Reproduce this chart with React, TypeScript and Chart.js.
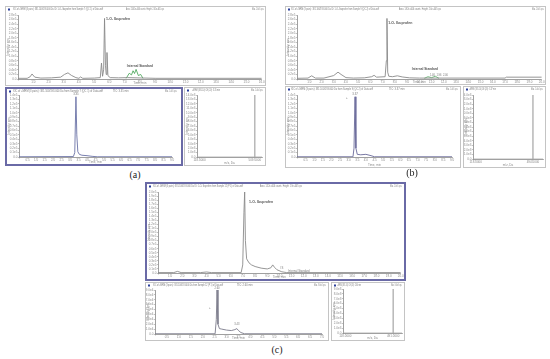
import React, { useEffect, useRef } from "react";
import { Chart, registerables } from "chart.js";

Chart.register(...registerables);

const FONT = "Liberation Sans";

// ---------- DATA ----------
// (a) top: XIC chromatogram (time, min / intensity, x1e4 cps)
const aTopTime = [0, 0.6, 0.8, 0.92, 1.1, 1.5, 2.2, 2.8, 3.05, 3.28, 3.5, 3.8, 4.0, 4.1, 4.25, 5.0, 5.4, 5.48, 5.55, 5.62, 5.68, 5.74, 5.79, 5.84, 5.9, 6.05, 6.6, 7.2, 9.0, 16];
const aTopInt = [0.3, 0.3, 1.0, 2.2, 0.8, 0.4, 0.5, 0.8, 2.0, 2.7, 1.6, 0.6, 0.3, 0.9, 0.3, 0.4, 0.6, 7.0, 1.2, 4.0, 26.5, 6.0, 2.0, 11.6, 1.5, 0.6, 0.5, 0.6, 0.3, 0.3];
const aIsTime = [7.1, 7.3, 7.45, 7.55, 7.65, 7.75, 7.9, 8.05, 8.2];
const aIsInt = [0.3, 2.5, 1.8, 3.6, 2.4, 4.2, 1.5, 2.0, 0.3];
// (a) bottom left: XIC
const aBLTime = [0, 3.2, 3.28, 3.35, 3.4, 3.46, 3.55, 3.7, 4.0, 4.3, 4.6, 9];
const aBLInt = [0.05, 0.1, 1.0, 13.6, 5.0, 1.2, 0.6, 0.4, 0.3, 0.15, 0.05, 0.05];
// spectra (m/z, Da / intensity)
const aSpecMz = [100, 508.9, 509, 509.1, 560];
const aSpecInt = [0, 0, 14, 0, 0];
const aSpecTicks = [118, 509];
// (b) top
const bTopTime = [0, 0.9, 1.2, 1.5, 2.2, 3.0, 3.35, 3.6, 4.0, 4.6, 5.5, 6.1, 6.3, 6.5, 7.2, 7.3, 7.35, 7.41, 7.5, 7.8, 8.2, 8.6, 9.2, 10, 17.0, 17.1, 20];
const bTopInt = [0.3, 0.4, 1.4, 0.4, 0.4, 1.5, 3.0, 2.0, 0.6, 0.4, 0.5, 1.0, 1.6, 0.8, 1.0, 8, 26.5, 3, 1.2, 1.0, 1.4, 0.9, 0.5, 0.4, 0.4, 0.8, 0.8];
const bIsTime = [10.4, 10.7, 11.0, 11.3, 11.6];
const bIsInt = [0.3, 1.0, 0.6, 1.2, 0.3];
// (b) bottom left
const bBLTime = [0, 3.25, 3.31, 3.37, 3.42, 3.5, 3.7, 4.0, 4.3, 4.5, 9];
const bBLInt = [0.05, 0.05, 2, 13.6, 2, 0.6, 0.5, 0.6, 0.3, 0.05, 0.05];
const bSpecMz = [100, 493.9, 494, 494.1, 560];
const bSpecInt = [0, 0, 14, 0, 0];
const bSpecTicks = [118, 494];
// (c) top
const cTopTime = [0, 1.3, 1.6, 1.9, 3.5, 4.0, 4.4, 6.85, 6.98, 7.08, 7.14, 7.2, 7.3, 7.5, 7.7, 8.0, 8.5, 9.0, 9.3, 9.45, 9.6, 9.8, 10.2, 10.6, 20];
const cTopInt = [0.1, 0.1, 0.4, 0.1, 0.1, 0.25, 0.1, 0.1, 2.0, 15, 20, 8, 3.5, 2.5, 2.0, 1.6, 1.2, 1.0, 1.3, 2.0, 1.4, 0.8, 0.3, 0.1, 0.1];
// (c) bottom left
const cBLTime = [0, 2.52, 2.57, 2.6, 2.64, 2.7, 2.8, 3.0, 3.2, 3.35, 3.43, 3.5, 3.6, 3.75, 7];
const cBLInt = [0.05, 0.05, 3, 9, 2.0, 1.1, 1.0, 0.8, 0.7, 0.9, 1.1, 0.7, 0.3, 0.05, 0.05];
const cSpecMz = [100, 490.9, 491, 491.1, 560];
const cSpecInt = [0, 0, 9, 0, 0];
const cSpecTicks = [118, 491];

// ---------- TYPES ----------
type Series = { t: number[]; y: number[]; color: string; width?: number };
type Note = { x: number; y: number; text: string; align?: CanvasTextAlign; size?: number; color?: string; bold?: boolean };
type HeadText = { text: string; x: number; w: number; align?: CanvasTextAlign };
type Panel = {
  key: string;
  box: [number, number, number, number];
  plot: [number, number, number, number];
  borderColor: string;
  borderW: number;
  xMin: number;
  xMax: number;
  xStep?: number;
  xTicks?: number[];
  xFmt: (v: number) => string;
  xTitle: string;
  yMax: number;
  yStep: number;
  yFmt: (v: number) => string;
  series: Series[];
  notes: Note[];
  header: HeadText[];
};

const GRAY = "#8a8a8a";
const BLUEB = "#6a6aa6";
const LIGHTB = "#c4c4c4";
const TXT = "#8a8a8a";

const fmtMin = (v: number) => (v === 0 ? "" : v.toFixed(1));
const fmtMz = (v: number) => v.toFixed(4);
const fmtE = (scale: number, exp: string) => (v: number) => (v === 0 ? "0.0" : (v * scale).toFixed(1) + exp);

const panels: Panel[] = [
  {
    key: "aTop", box: [5, 6, 261, 80], plot: [18, 15, 263, 79], borderColor: LIGHTB, borderW: 1,
    xMin: 0, xMax: 16, xStep: 1, xFmt: fmtMin, xTitle: "Time, min",
    yMax: 28, yStep: 2, yFmt: fmtE(0.1, "e5"),
    series: [
      { t: aTopTime, y: aTopInt, color: GRAY, width: 0.9 },
      { t: aIsTime, y: aIsInt, color: "#3ca04c", width: 0.8 },
    ],
    notes: [
      { x: 5.78, y: 26.2, text: "1-O- Ibuprofen", size: 3.5, bold: true, color: "#555" },
      { x: 8.0, y: 5.8, text: "Internal Standard", align: "center", size: 3.2, bold: true, color: "#555" },
    ],
    header: [
      { text: "XIC of +MRM (3 pairs): 381.100/193.000 Da ID: 1-O- Ibuprofen from Sample 7 (QC 1) of Data.wiff", x: 7, w: 90 },
      { text: "Area: 2.461e+006 counts  Height: 2.61e+005 cps", x: 120, w: 38 },
      { text: "Max. 2.6e5 cps.", x: 258, w: 12, align: "right" },
    ],
  },
  {
    key: "aBL", box: [5, 87, 178, 79], plot: [19, 95, 172, 157], borderColor: BLUEB, borderW: 2,
    xMin: 0, xMax: 9, xStep: 0.5, xFmt: fmtMin, xTitle: "Time, min",
    yMax: 14, yStep: 1, yFmt: fmtE(0.1, "e5"),
    series: [{ t: aBLTime, y: aBLInt, color: "#6a72a6", width: 0.9 }],
    notes: [{ x: 3.35, y: 14.1, text: "3.35", align: "center", size: 2.8 }],
    header: [
      { text: "XIC of +MRM (3 pairs): 381.100/193.000 Da from Sample 7 (QC 1) of Data.wiff", x: 6, w: 90 },
      { text: "TIC: 3.35 min", x: 106, w: 24 },
      { text: "Max. 1.4e5 cps.", x: 170, w: 12, align: "right" },
    ],
  },
  {
    key: "aBR", box: [184, 87, 82, 79], plot: [197, 95, 262, 157], borderColor: LIGHTB, borderW: 1,
    xMin: 100, xMax: 560, xTicks: aSpecTicks, xFmt: fmtMz, xTitle: "m/z, Da",
    yMax: 14, yStep: 1, yFmt: fmtE(1, "e3"),
    series: [{ t: aSpecMz, y: aSpecInt, color: "#a8a8a8", width: 0.8 }],
    notes: [],
    header: [
      { text: "+MRM (381.10) CE (20): 3.35 min", x: 7, w: 28 },
      { text: "Max. 1.4e4 cps.", x: 78, w: 12, align: "right" },
    ],
  },
  {
    key: "bTop", box: [285, 6, 261, 79], plot: [297, 15, 542, 79], borderColor: LIGHTB, borderW: 1,
    xMin: 0, xMax: 20, xStep: 1, xFmt: fmtMin, xTitle: "Time, min",
    yMax: 28, yStep: 2, yFmt: fmtE(0.1, "e5"),
    series: [
      { t: bTopTime, y: bTopInt, color: GRAY, width: 0.9 },
      { t: bIsTime, y: bIsInt, color: "#3ca04c", width: 0.7 },
    ],
    notes: [
      { x: 7.45, y: 24.5, text: "1-O- Ibuprofen", size: 3.5, bold: true, color: "#555" },
      { x: 10.45, y: 4.2, text: "Internal Standard", align: "center", size: 3.2, bold: true, color: "#555" },
      { x: 11.6, y: 1.8, text: "1.46  1.96  2.00", align: "center", size: 2.6 },
    ],
    header: [
      { text: "XIC of +MRM (3 pairs): 381.100/193.000 Da ID: 1-O- Ibuprofen from Sample 9 (QC 2) of Data.wiff", x: 5, w: 88 },
      { text: "Area: 1.92e+006 counts  Height: 2.6e+005 cps", x: 113, w: 42 },
      { text: "Max. 2.6e5 cps.", x: 258, w: 12, align: "right" },
    ],
  },
  {
    key: "bBL", box: [285, 86, 176, 82], plot: [297, 95, 452, 157], borderColor: LIGHTB, borderW: 1,
    xMin: 0, xMax: 9, xStep: 0.5, xFmt: fmtMin, xTitle: "Time, min",
    yMax: 14, yStep: 1, yFmt: fmtE(0.1, "e5"),
    series: [{ t: bBLTime, y: bBLInt, color: "#6a6a9a", width: 0.9 }],
    notes: [
      { x: 3.37, y: 14.1, text: "3.37", align: "center", size: 2.8 },
      { x: 2.9, y: 13.3, text: "+", align: "center", size: 3 },
    ],
    header: [
      { text: "XIC of +MRM (3 pairs): 381.100/193.000 Da from Sample 9 (QC 2) of Data.wiff", x: 5, w: 82 },
      { text: "TIC: 3.37 min", x: 103, w: 20 },
      { text: "Max. 1.4e5 cps.", x: 172, w: 12, align: "right" },
    ],
  },
  {
    key: "bBR", box: [463, 86, 83, 82], plot: [473, 95, 543, 159], borderColor: LIGHTB, borderW: 1,
    xMin: 100, xMax: 560, xTicks: bSpecTicks, xFmt: fmtMz, xTitle: "m/z, Da",
    yMax: 14, yStep: 1, yFmt: fmtE(1, "e3"),
    series: [{ t: bSpecMz, y: bSpecInt, color: "#a8a8a8", width: 0.8 }],
    notes: [],
    header: [
      { text: "+MRM (381.10) CE (20): 3.37 min", x: 5, w: 27 },
      { text: "Max. 1.4e4 cps.", x: 79, w: 12, align: "right" },
    ],
  },
  {
    key: "cTop", box: [145, 182, 261, 99], plot: [158, 192, 403, 273], borderColor: BLUEB, borderW: 2,
    xMin: 0, xMax: 20, xStep: 1, xFmt: fmtMin, xTitle: "Time, min",
    yMax: 20, yStep: 1, yFmt: fmtE(0.1, "e5"),
    series: [{ t: cTopTime, y: cTopInt, color: GRAY, width: 0.9 }],
    notes: [
      { x: 7.5, y: 17.5, text: "1-O- Ibuprofen", size: 3.5, bold: true, color: "#555" },
      { x: 10.1, y: 1.1, text: "IS", size: 2.8 },
      { x: 11.6, y: 0.45, text: "Internal Standard", align: "center", size: 2.8 },
    ],
    header: [
      { text: "XIC of +MRM (3 pairs): 381.100/193.000 Da ID: 1-O- Ibuprofen from Sample 12 (P 1) of Data.wiff", x: 6, w: 90 },
      { text: "Area: 1.52e+006 counts  Height: 1.9e+005 cps", x: 113, w: 42 },
      { text: "Max. 2.0e5 cps.", x: 255, w: 12, align: "right" },
    ],
  },
  {
    key: "cBL", box: [145, 282, 184, 59], plot: [155, 290, 322, 334], borderColor: LIGHTB, borderW: 1,
    xMin: 0, xMax: 7, xStep: 0.5, xFmt: fmtMin, xTitle: "Time, min",
    yMax: 9, yStep: 1, yFmt: fmtE(1, "e4"),
    series: [{ t: cBLTime, y: cBLInt, color: "#7a7a8a", width: 0.9 }],
    notes: [
      { x: 2.6, y: 9.4, text: "2.60", align: "center", size: 2.6 },
      { x: 3.43, y: 1.9, text: "3.43", align: "center", size: 2.6 },
      { x: 2.3, y: 5.3, text: "+", align: "center", size: 3 },
    ],
    header: [
      { text: "XIC of +MRM (3 pairs): 381.100/193.000 Da from Sample 12 (P 1) of Data.wiff", x: 7, w: 70 },
      { text: "TIC: 2.60 min", x: 91, w: 17 },
      { text: "Max. 9.0e4 cps.", x: 180, w: 12, align: "right" },
    ],
  },
  {
    key: "cBR", box: [331, 282, 74, 59], plot: [343, 289, 402, 333], borderColor: LIGHTB, borderW: 1,
    xMin: 100, xMax: 560, xTicks: cSpecTicks, xFmt: fmtMz, xTitle: "m/z, Da",
    yMax: 9, yStep: 1, yFmt: fmtE(1, "e3"),
    series: [{ t: cSpecMz, y: cSpecInt, color: "#a8a8a8", width: 0.8 }],
    notes: [],
    header: [
      { text: "+MRM (381.10) CE (20): 2.60 min", x: 5, w: 24 },
      { text: "Max. 9.0e3 cps.", x: 70, w: 11, align: "right" },
    ],
  },
];

const figLabels = [
  { text: "(a)", x: 135, y: 175 },
  { text: "(b)", x: 412, y: 173 },
  { text: "(c)", x: 277, y: 350 },
];

function PanelChart({ p }: { p: Panel }) {
  const ref = useRef<HTMLCanvasElement>(null);
  const [l, t, w, h] = p.box;
  const bw = p.borderW;
  const cw = w - 2 * bw;
  const ch = h - 2 * bw;

  useEffect(() => {
    const [pl, pt, pr, pb] = p.plot;
    const ox = l + bw;
    const oy = t + bw;
    const yAxisW = pl - ox;
    const padTop = pt - oy;
    const padRight = ox + cw - pr;
    const xAxisH = oy + ch - pb;
    const tickFont = { size: 3, family: FONT };

    const overlay = {
      id: "overlay_" + p.key,
      afterDatasetsDraw(chart: any) {
        const ctx = chart.ctx as CanvasRenderingContext2D;
        const xs = chart.scales.x;
        const ys = chart.scales.y;
        ctx.save();
        ctx.textBaseline = "middle";
        for (const n of p.notes) {
          ctx.font = `${n.bold ? "bold " : ""}${n.size ?? 3}px "${FONT}"`;
          ctx.fillStyle = n.color ?? "#777";
          ctx.textAlign = n.align ?? "left";
          ctx.fillText(n.text, xs.getPixelForValue(n.x), ys.getPixelForValue(n.y));
        }
        // header
        ctx.fillStyle = "#2a3f9a";
        ctx.fillRect(2, 1.5, 2, 2);
        ctx.font = `2.6px "${FONT}"`;
        ctx.fillStyle = "#7a7a7a";
        for (const hd of p.header) {
          ctx.textAlign = hd.align ?? "left";
          ctx.fillText(hd.text, hd.x, 2.6, hd.w);
        }
        ctx.restore();
      },
    };

    const chart = new Chart(ref.current as HTMLCanvasElement, {
      type: "line",
      data: {
        datasets: p.series.map((s) => ({
          data: s.t.map((x, i) => ({ x, y: s.y[i] })),
          borderColor: s.color,
          borderWidth: s.width ?? 0.8,
          pointRadius: 0,
          tension: 0,
          fill: false,
        })),
      },
      options: {
        responsive: false,
        animation: false,
        devicePixelRatio: 1,
        layout: { padding: { left: 0, top: padTop, right: padRight, bottom: 0 } },
        plugins: {
          legend: { display: false },
          tooltip: { enabled: false },
          title: { display: false },
        },
        scales: {
          x: {
            type: "linear",
            min: p.xMin,
            max: p.xMax,
            afterFit: (s: any) => {
              s.height = xAxisH;
            },
            afterBuildTicks: (s: any) => {
              if (p.xTicks) s.ticks = p.xTicks.map((v) => ({ value: v }));
            },
            ticks: {
              stepSize: p.xStep,
              font: tickFont,
              color: TXT,
              padding: 0.3,
              maxRotation: 0,
              autoSkip: false,
              callback: (v: any) => p.xFmt(Number(v)),
            },
            grid: { drawOnChartArea: false, tickLength: 1.5, color: "#999", lineWidth: 0.6 },
            border: { color: "#888", width: 0.8 },
            title: { display: true, text: p.xTitle, font: tickFont, color: TXT, padding: 0 },
          },
          y: {
            type: "linear",
            min: 0,
            max: p.yMax,
            afterFit: (s: any) => {
              s.width = yAxisW;
            },
            ticks: {
              stepSize: p.yStep,
              font: tickFont,
              color: TXT,
              padding: 0.5,
              autoSkip: false,
              callback: (v: any) => p.yFmt(Number(v)),
            },
            grid: { drawOnChartArea: false, tickLength: 1.2, color: "#999", lineWidth: 0.6 },
            border: { color: "#888", width: 0.8 },
            title: { display: true, text: "Intensity, cps", font: tickFont, color: TXT, padding: 0 },
          },
        },
      },
      plugins: [overlay],
    } as any);
    return () => chart.destroy();
  }, []);

  return (
    <div
      style={{
        position: "absolute",
        left: l,
        top: t,
        width: w,
        height: h,
        boxSizing: "border-box",
        border: `${bw}px solid ${p.borderColor}`,
        background: "#fff",
      }}
    >
      <canvas ref={ref} width={cw} height={ch} style={{ display: "block", width: cw, height: ch }} />
    </div>
  );
}

export default function App() {
  return (
    <div style={{ position: "absolute", left: 0, top: 0, width: 550, height: 359, background: "#fff", overflow: "hidden" }}>
      {panels.map((p) => (
        <PanelChart key={p.key} p={p} />
      ))}
      {figLabels.map((f) => (
        <div
          key={f.text}
          style={{
            position: "absolute",
            left: f.x - 15,
            top: f.y - 7,
            width: 30,
            height: 14,
            lineHeight: "14px",
            textAlign: "center",
            fontFamily: '"Liberation Serif", serif',
            fontSize: 10,
            color: "#222",
          }}
        >
          {f.text}
        </div>
      ))}
    </div>
  );
}
